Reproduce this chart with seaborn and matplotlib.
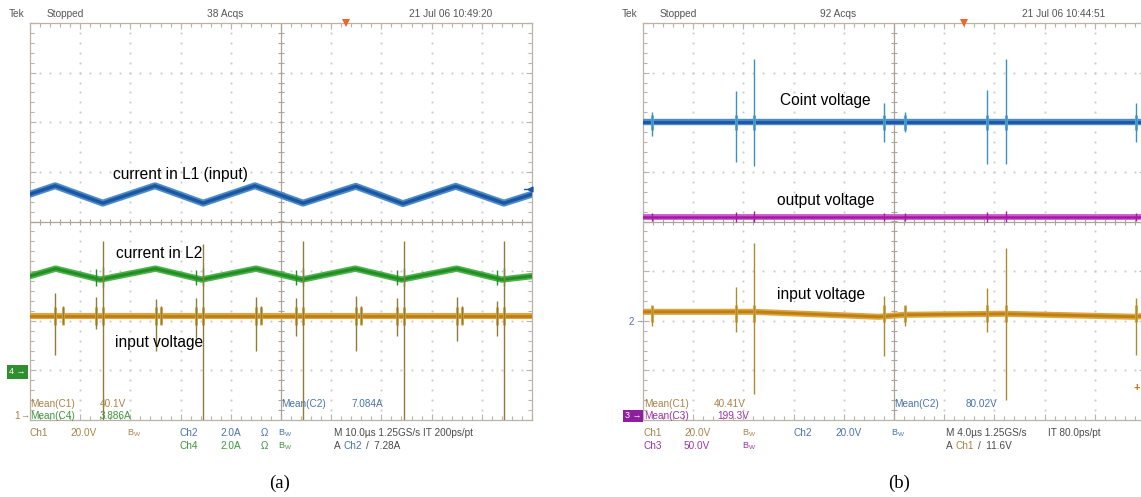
import numpy as np
import matplotlib
matplotlib.use("Agg")
import matplotlib.pyplot as plt
import seaborn as sns
from matplotlib.ticker import MultipleLocator

# ---------------- (a) 10 us/div, levels in screen divisions ----------------
a_l1_x = [0.0, 0.50, 1.45, 2.49, 3.45, 4.48, 5.44, 6.49, 7.43, 8.48, 9.44, 10.0]
a_l1_v = [0.55, 0.72, 0.37, 0.72, 0.37, 0.72, 0.37, 0.71, 0.36, 0.71, 0.37, 0.55]

a_l2_x = [0.0, 0.51, 1.40, 2.50, 3.42, 4.50, 5.42, 6.48, 7.40, 8.50, 9.40, 10.0]
a_l2_v = [-1.10, -0.95, -1.17, -0.95, -1.17, -0.95, -1.17, -0.95, -1.17, -0.95, -1.17, -1.10]

a_vin_x = [0.0, 10.0]
a_vin_v = [-1.90, -1.90]

# switching transients on the input-voltage channel
a_spk_x = [0.49, 0.66, 1.31, 1.45, 2.51, 2.61, 3.30, 3.44, 4.50, 4.60,
           5.29, 5.43, 6.49, 6.59, 7.31, 7.45, 8.51, 8.61, 9.30, 9.44]
a_spk_top = [-1.45, -1.70, -1.52, -0.39, -1.56, -1.70, -1.55, -0.45, -1.52, -1.70,
             -1.55, -0.40, -1.50, -1.70, -1.55, -0.40, -1.52, -1.70, -1.60, -0.40]
a_spk_bot = [-2.69, -2.07, -2.17, -4.00, -2.60, -2.07, -2.35, -4.00, -2.60, -2.07,
             -2.30, -4.00, -2.60, -2.07, -2.30, -4.00, -2.40, -2.07, -2.30, -4.00]
# glitches on the L2 current at turn-off
a_l2g_x = [1.31, 1.45, 3.30, 3.44, 5.29, 5.43, 7.31, 7.45, 9.30, 9.44]
a_l2g_top = [-0.95, -0.92, -0.97, -0.93, -0.97, -0.93, -0.97, -0.93, -0.97, -0.93]
a_l2g_bot = [-1.30, -1.32, -1.28, -1.30, -1.28, -1.30, -1.28, -1.30, -1.28, -1.30]

# ---------------- (b) 4 us/div ----------------
b_coint_x = [0.0, 10.0]
b_coint_v = [2.0, 2.0]
b_out_x = [0.0, 10.0]
b_out_v = [0.10, 0.10]
b_vin_x = [0.0, 2.2, 4.7, 5.2, 7.2, 9.8, 10.0]
b_vin_v = [-1.82, -1.82, -1.92, -1.88, -1.86, -1.92, -1.90]

b_evt_x = [0.18, 1.85, 2.21, 4.80, 5.22, 6.85, 7.23, 9.83]
b_coint_top = [2.20, 2.63, 3.27, 2.38, 2.20, 2.65, 3.27, 2.38]
b_coint_bot = [1.72, 1.20, 1.12, 1.61, 1.80, 1.16, 1.16, 1.60]
b_vin_top = [-1.70, -1.31, -0.44, -1.51, -1.70, -1.33, -0.54, -1.55]
b_vin_bot = [-2.10, -2.23, -3.47, -2.71, -2.10, -2.23, -3.60, -2.70]
b_out_top = [0.18, 0.20, 0.22, 0.18, 0.18, 0.20, 0.22, 0.18]
b_out_bot = [0.02, 0.00, -0.02, 0.02, 0.02, 0.00, -0.02, 0.02]

# ---------------- styling ----------------
sns.set_theme(style="white")
plt.rcParams["font.family"] = ["Liberation Sans", "DejaVu Sans"]

W, H = 1141, 497
fig = plt.figure(figsize=(W / 100, H / 100), dpi=100)
fig.patch.set_facecolor("white")

GRID = "#b9b3a8"
DOT = "#c8c8c8"
BLUE, BLUE_L = "#1b569e", "#4c8ccc"
GREEN, GREEN_L = "#238f23", "#4db24d"
ORNG, ORNG_L = "#c07d10", "#dba640"
OLIVE = "#8f7b3a"
MAG, MAG_L = "#a51aa5", "#cc5ccc"

T_BROWN = "#a8824a"
T_GREEN = "#3f963f"
T_BLUE = "#4a73ab"
T_PURP = "#9a35a5"
T_DARK = "#4a4a4a"


def px(x, y):
    return x / W, 1 - y / H


def ftext(x, y, s, color, size=7.2, ha="left", va="center", **kw):
    fig.text(*px(x, y), s, color=color, fontsize=size, ha=ha, va=va, **kw)


def graticule(ax):
    ax.set_xlim(0, 10)
    ax.set_ylim(-4, 4)
    ax.set_facecolor("white")
    ax.xaxis.set_major_locator(MultipleLocator(1))
    ax.xaxis.set_minor_locator(MultipleLocator(0.2))
    ax.yaxis.set_major_locator(MultipleLocator(1))
    ax.yaxis.set_minor_locator(MultipleLocator(0.2))
    ax.tick_params(which="both", direction="in", top=True, right=True,
                   bottom=True, left=True, labelbottom=False, labelleft=False,
                   color=GRID, width=0.8)
    ax.tick_params(which="major", length=4)
    ax.tick_params(which="minor", length=2.6)
    for s in ax.spines.values():
        s.set_color(GRID)
        s.set_linewidth(0.9)
    gx = np.arange(0, 10.001, 0.2)
    gy = np.arange(-4, 4.001, 0.2)
    for k in range(1, 10):
        if k != 5:
            ax.plot(np.full_like(gy, k), gy, ls="none", marker="s", ms=1.3,
                    mew=0, color=DOT, zorder=1)
    for k in range(-3, 4):
        if k != 0:
            ax.plot(gx, np.full_like(gx, k), ls="none", marker="s", ms=1.3,
                    mew=0, color=DOT, zorder=1)
    ax.axhline(0, color="#aaa499", lw=0.9, zorder=1)
    ax.axvline(5, color="#aaa499", lw=0.9, zorder=1)
    ax.plot(gx, np.zeros_like(gx), ls="none", marker="|", ms=4.5, mew=0.8,
            color="#aaa499", zorder=1)
    ax.plot(np.full_like(gy, 5), gy, ls="none", marker="_", ms=4.5, mew=0.8,
            color="#aaa499", zorder=1)
    ax.set_xlabel("")
    ax.set_ylabel("")


def trace(ax, x, y, c_light, c_core, w_light=4.6, w_core=2.0):
    sns.lineplot(x=x, y=y, ax=ax, color=c_light, lw=w_light, estimator=None,
                 sort=False, legend=False, zorder=3)
    sns.lineplot(x=x, y=y, ax=ax, color=c_core, lw=w_core, estimator=None,
                 sort=False, legend=False, zorder=4)


ax_h = 397 / H
ax_b = (H - 420) / H
ax_w = 502 / W
axA = fig.add_axes([30 / W, ax_b, ax_w, ax_h])
axB = fig.add_axes([643 / W, ax_b, ax_w, ax_h])
graticule(axA)
graticule(axB)

# ---- panel (a) traces ----
trace(axA, a_l1_x, a_l1_v, BLUE_L, BLUE, 5.0, 2.4)
axA.vlines(a_l2g_x, a_l2g_bot, a_l2g_top, color=GREEN, lw=1.0, zorder=4)
trace(axA, a_l2_x, a_l2_v, GREEN_L, GREEN, 4.6, 2.2)
trace(axA, a_vin_x, a_vin_v, ORNG_L, ORNG, 4.4, 2.0)
axA.vlines(a_spk_x, a_spk_bot, a_spk_top, color=OLIVE, lw=1.0, zorder=5)
axA.vlines(a_spk_x, [-2.08] * len(a_spk_x), [-1.72] * len(a_spk_x),
           color=ORNG_L, lw=2.0, zorder=4)
axA.plot([9.97], [0.66], marker="<", ms=3.5, color=BLUE, clip_on=False, zorder=6)
axA.plot([10.0, 9.85], [0.66, 0.66], color=BLUE, lw=1.0, clip_on=False, zorder=6)
axA.plot([6.3], [4.0], marker="v", ms=5.5, color="#f0642a", mew=0,
         clip_on=False, zorder=6)

# ---- panel (b) traces ----
trace(axB, b_coint_x, b_coint_v, BLUE_L, BLUE, 4.6, 2.0)
axB.vlines(b_evt_x, b_coint_bot, b_coint_top, color="#3f8fc0", lw=1.0, zorder=5)
axB.vlines(b_evt_x, [1.85] * len(b_evt_x), [2.15] * len(b_evt_x),
           color="#5aa8e0", lw=2.0, zorder=4)
trace(axB, b_out_x, b_out_v, MAG_L, MAG, 4.2, 1.8)
axB.vlines(b_evt_x, b_out_bot, b_out_top, color=MAG, lw=1.0, zorder=5)
trace(axB, b_vin_x, b_vin_v, ORNG_L, ORNG, 4.4, 2.0)
axB.vlines(b_evt_x, b_vin_bot, b_vin_top, color="#b08a30", lw=1.0, zorder=5)
axB.vlines(b_evt_x, [-2.02] * len(b_evt_x), [-1.68] * len(b_evt_x),
           color=ORNG_L, lw=2.0, zorder=4)
axB.plot([6.4], [4.0], marker="v", ms=5.5, color="#f0642a", mew=0,
         clip_on=False, zorder=6)

# ---- header lines ----
for x0, acq, date in [(9, "38 Acqs", "21 Jul 06 10:49:20"),
                      (622, "92 Acqs", "21 Jul 06 10:44:51")]:
    ftext(x0, 14, "Tek", "#555555", 7.3)
    ftext(x0 + 38, 14, "Stopped", "#555555", 7.3)
    ftext(x0 + 198, 14, acq, "#555555", 7.3)
    ftext(x0 + 400, 14, date, "#555555", 7.3)

# ---- annotations on the traces ----
LBL = dict(color="black", size=11.2)
ftext(113, 174, "current in L1 (input)", **LBL)
ftext(116, 254, "current in L2", **LBL)
ftext(115, 342, "input voltage", **LBL)
ftext(780, 100, "Coint voltage", **LBL)
ftext(777, 200, "output voltage", **LBL)
ftext(777, 294, "input voltage", **LBL)

BW = r"$\mathregular{B_W}$"

# ---- readouts (a) ----
r1, r2, r3, r4 = 404, 416, 433, 446
ftext(30, r1, "Mean(C1)", T_BROWN)
ftext(100, r1, "40.1V", T_BROWN)
ftext(281, r1, "Mean(C2)", T_BLUE)
ftext(352, r1, "7.084A", T_BLUE)
ftext(14, r2, "1", T_BROWN)
ftext(20, r2, "→", T_BROWN, 6.5)
ftext(30, r2, "Mean(C4)", T_GREEN)
ftext(100, r2, "3.886A", T_GREEN)
ftext(30, r3, "Ch1", T_BROWN)
ftext(70, r3, "20.0V", T_BROWN)
ftext(127, r3, BW, T_BROWN, 6.5)
ftext(180, r3, "Ch2", T_BLUE)
ftext(220, r3, "2.0A", T_BLUE)
ftext(261, r3, "Ω", T_BLUE)
ftext(278, r3, BW, T_BLUE, 6.5)
ftext(334, r3, "M 10.0µs 1.25GS/s", T_DARK)
ftext(423, r3, "IT 200ps/pt", T_DARK)
ftext(180, r4, "Ch4", T_GREEN)
ftext(220, r4, "2.0A", T_GREEN)
ftext(261, r4, "Ω", T_GREEN)
ftext(278, r4, BW, T_GREEN, 6.5)
ftext(334, r4, "A", T_DARK)
ftext(344, r4, "Ch2", T_BLUE)
ftext(366, r4, "/  7.28A", T_DARK)
ftext(9, 372, "4 →", "white", 6.5,
      bbox=dict(facecolor="#2f8f2f", edgecolor="none", pad=1.6))

# ---- readouts (b) ----
ftext(644, r1, "Mean(C1)", T_BROWN)
ftext(714, r1, "40.41V", T_BROWN)
ftext(894, r1, "Mean(C2)", T_BLUE)
ftext(966, r1, "80.02V", T_BLUE)
ftext(625, r2, "3 →", "white", 6.5,
      bbox=dict(facecolor="#8e1f9e", edgecolor="none", pad=1.2))
ftext(644, r2, "Mean(C3)", T_PURP)
ftext(717, r2, "199.3V", T_PURP)
ftext(644, r3, "Ch1", T_BROWN)
ftext(684, r3, "20.0V", T_BROWN)
ftext(742, r3, BW, T_BROWN, 6.5)
ftext(794, r3, "Ch2", T_BLUE)
ftext(835, r3, "20.0V", T_BLUE)
ftext(891, r3, BW, T_BLUE, 6.5)
ftext(946, r3, "M 4.0µs 1.25GS/s", T_DARK)
ftext(1048, r3, "IT 80.0ps/pt", T_DARK)
ftext(644, r4, "Ch3", T_PURP)
ftext(684, r4, "50.0V", T_PURP)
ftext(742, r4, BW, T_PURP, 6.5)
ftext(946, r4, "A", T_DARK)
ftext(956, r4, "Ch1", T_BROWN)
ftext(978, r4, "/  11.6V", T_DARK)
ftext(629, 322, "2", T_BLUE, 7)
ftext(635, 322, "→", T_BLUE, 6)
ftext(1137, 388, "+", "#d07020", 8, ha="center", fontweight="bold")

# ---- panel captions ----
ftext(280, 483, "(a)", "black", 13.5, ha="center", family="Liberation Serif")
ftext(899, 483, "(b)", "black", 13.5, ha="center", family="Liberation Serif")

fig.savefig("out.png", dpi=100, facecolor="white")
